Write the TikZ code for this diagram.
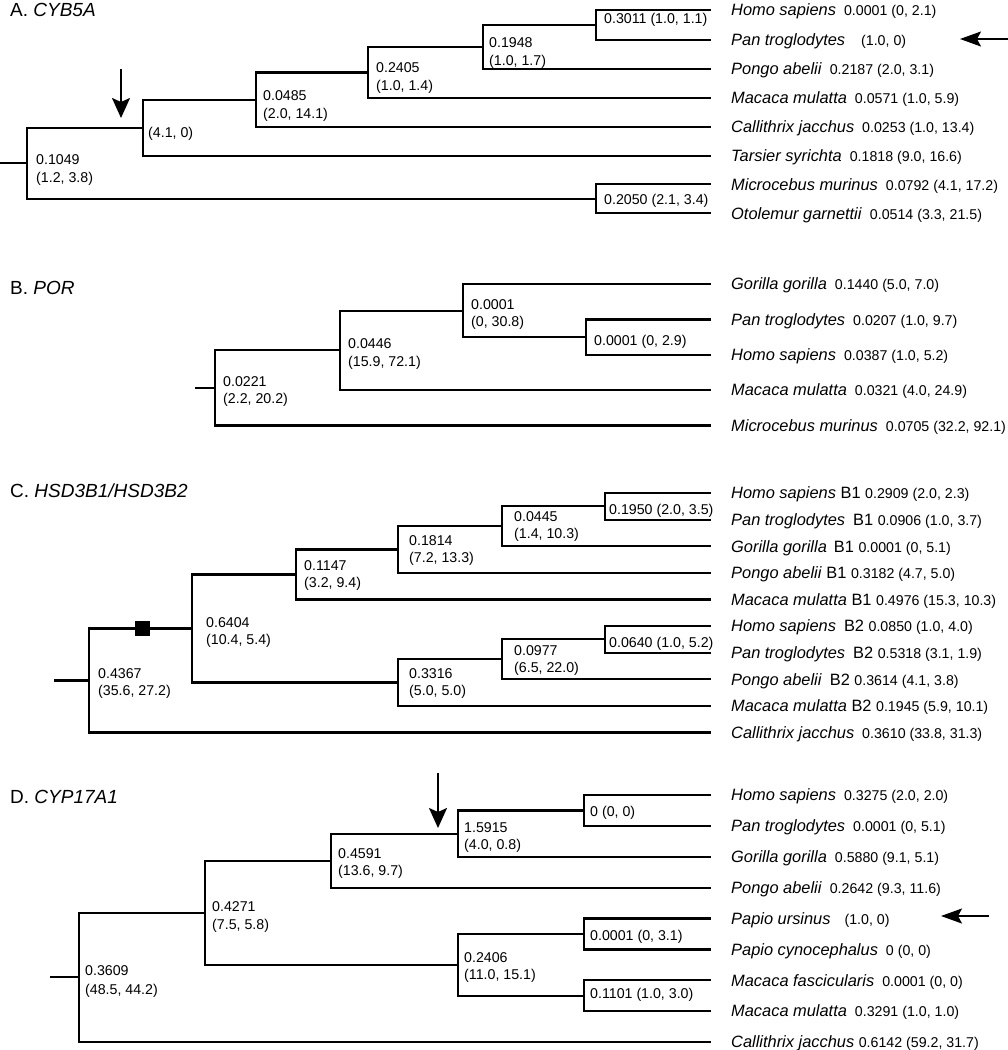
\documentclass[tikz,border=0pt]{standalone}
\usepackage{fontspec}
\setmainfont{Liberation Sans}
\usetikzlibrary{arrows.meta,calc}
\newcommand\numtxt[1]{{\fontsize{14.2}{17}\selectfont #1}}
\begin{document}
\begin{tikzpicture}[x=1pt,y=-1pt,
 br/.style={line width=2.2pt, line join=miter},
 num/.style={anchor=base west, inner sep=0pt, font=\fontsize{14.2}{17}\selectfont},
 tiplab/.style={anchor=base west, inner sep=0pt, font=\fontsize{16.4}{19}\selectfont},
 ttl/.style={anchor=base west, inner sep=0pt, font=\fontsize{19}{22}\selectfont},
 downarr/.style={line width=2pt, -{Stealth[length=20pt,width=18pt,inset=4pt]}},
 leftarr/.style={line width=2pt, -{Stealth[length=21pt,width=15pt,inset=4pt]}},
 sq/.style={fill=black, minimum size=15pt, inner sep=0pt}]
\useasboundingbox (0,0) rectangle (1008,1050);

%%%%%%%%%%%%%%%% Panel A %%%%%%%%%%%%%%%%
\node[ttl] (tA) at (10,16.5) {A. \textit{CYB5A}};
\coordinate (A1) at (711,10);
\coordinate (A2) at (711,40);
\coordinate (A3) at (711,69);
\coordinate (A4) at (711,98);
\coordinate (A5) at (711,127);
\coordinate (A6) at (711,156);
\coordinate (A7) at (711,184.3);
\coordinate (A8) at (711,213.3);
\coordinate (a1) at (596,25);
\coordinate (a2) at (483,47);
\coordinate (a3) at (368,72.5);
\coordinate (a4) at (256,99.75);
\coordinate (a5) at (143,127.9);
\coordinate (a6) at (596,198.8);
\coordinate (a0) at (27,163.3);
\coordinate (a0s) at (0,163.3);
\draw[br] (A1) -| (a1) |- (A2);
\draw[br] (a1) -| (a2) |- (A3);
\draw[br] (a2) -| (a3) |- (A4);
\draw[br] (a3) -| (a4) |- (A5);
\draw[br] (a4) -| (a5) |- (A6);
\draw[br] (A7) -| (a6) |- (A8);
\draw[br] (a5) -| (a0) |- (a6);
\draw[br] (a0s) -- (a0);

\node[num] (la1) at (604,23.8) {0.3011 (1.0, 1.1)};
\node[num] (la2) at (489,47.3) {0.1948};
\node[num] (la2b) at (489,65.3) {(1.0, 1.7)};
\node[num] (la3) at (376,72.2) {0.2405};
\node[num] (la3b) at (376,90.2) {(1.0, 1.4)};
\node[num] (la4) at (263,100.6) {0.0485};
\node[num] (la4b) at (263,118.3) {(2.0, 14.1)};
\node[num] (la5) at (148,137.1) {(4.1, 0)};
\node[num] (la0) at (36,164.1) {0.1049};
\node[num] (la0b) at (36,182.1) {(1.2, 3.8)};
\node[num] (la6) at (604,204.1) {0.2050 (2.1, 3.4)};

\node[tiplab] (A1l) at ($(A1)+(20,5.8)$) {\textit{Homo sapiens}\hspace{8pt}\numtxt{0.0001 (0, 2.1)}};
\node[tiplab] (A2l) at ($(A2)+(20,5.8)$) {\textit{Pan troglodytes}\hspace{16pt}\numtxt{(1.0, 0)}};
\node[tiplab] (A3l) at ($(A3)+(20,5.8)$) {\textit{Pongo abelii}\hspace{8pt}\numtxt{0.2187 (2.0, 3.1)}};
\node[tiplab] (A4l) at ($(A4)+(20,5.8)$) {\textit{Macaca mulatta}\hspace{8pt}\numtxt{0.0571 (1.0, 5.9)}};
\node[tiplab] (A5l) at ($(A5)+(20,5.8)$) {\textit{Callithrix jacchus}\hspace{8pt}\numtxt{0.0253 (1.0, 13.4)}};
\node[tiplab] (A6l) at ($(A6)+(20,5.8)$) {\textit{Tarsier syrichta}\hspace{8pt}\numtxt{0.1818 (9.0, 16.6)}};
\node[tiplab] (A7l) at ($(A7)+(20,5.8)$) {\textit{Microcebus murinus}\hspace{8pt}\numtxt{0.0792 (4.1, 17.2)}};
\node[tiplab] (A8l) at ($(A8)+(20,5.8)$) {\textit{Otolemur garnettii}\hspace{8pt}\numtxt{0.0514 (3.3, 21.5)}};

\coordinate (arAs) at (121,69);
\coordinate (arAe) at (121,118);
\draw[downarr] (arAs) -- (arAe);
\coordinate (arA2s) at (1008,39);
\coordinate (arA2e) at (960,39);
\draw[leftarr] (arA2s) -- (arA2e);

%%%%%%%%%%%%%%%% Panel B %%%%%%%%%%%%%%%%
\node[ttl] (tB) at (10,294) {B. \textit{POR}};
\coordinate (B1) at (711,284);
\coordinate (B2) at (711,319.5);
\coordinate (B3) at (711,355);
\coordinate (B4) at (711,390);
\coordinate (B5) at (711,425.5);
\coordinate (b1) at (586,337.25);
\coordinate (b2) at (463,310.6);
\coordinate (b3) at (340,350.3);
\coordinate (b0) at (215,387.9);
\coordinate (b0s) at (195,387.9);
\draw[br] (B2) -| (b1) |- (B3);
\draw[br] (B1) -| (b2) |- (b1);
\draw[br] (b2) -| (b3) |- (B4);
\draw[br] (b3) -| (b0) |- (B5);
\draw[br] (b0s) -- (b0);

\node[num] (lb1) at (594,345.6) {0.0001 (0, 2.9)};
\node[num] (lb2) at (471,309.1) {0.0001};
\node[num] (lb2b) at (471,326.6) {(0, 30.8)};
\node[num] (lb3) at (348,348.8) {0.0446};
\node[num] (lb3b) at (348,366.3) {(15.9, 72.1)};
\node[num] (lb0) at (223,386.1) {0.0221};
\node[num] (lb0b) at (223,403.6) {(2.2, 20.2)};

\node[tiplab] (B1l) at ($(B1)+(20,5.8)$) {\textit{Gorilla gorilla}\hspace{8pt}\numtxt{0.1440 (5.0, 7.0)}};
\node[tiplab] (B2l) at ($(B2)+(20,5.8)$) {\textit{Pan troglodytes}\hspace{8pt}\numtxt{0.0207 (1.0, 9.7)}};
\node[tiplab] (B3l) at ($(B3)+(20,5.8)$) {\textit{Homo sapiens}\hspace{8pt}\numtxt{0.0387 (1.0, 5.2)}};
\node[tiplab] (B4l) at ($(B4)+(20,5.8)$) {\textit{Macaca mulatta}\hspace{8pt}\numtxt{0.0321 (4.0, 24.9)}};
\node[tiplab] (B5l) at ($(B5)+(20,5.8)$) {\textit{Microcebus murinus}\hspace{8pt}\numtxt{0.0705 (32.2, 92.1)}};

%%%%%%%%%%%%%%%% Panel C %%%%%%%%%%%%%%%%
\node[ttl] (tC) at (10,497) {C. \textit{HSD3B1/HSD3B2}};
\coordinate (C1) at (711,493);
\coordinate (C2) at (711,519.6);
\coordinate (C3) at (711,546.2);
\coordinate (C4) at (711,572.8);
\coordinate (C5) at (711,599.4);
\coordinate (C6) at (711,626);
\coordinate (C7) at (711,652.6);
\coordinate (C8) at (711,679.2);
\coordinate (C9) at (711,705.8);
\coordinate (C10) at (711,732.4);
\coordinate (c1) at (605,506.3);
\coordinate (c2) at (502,526.25);
\coordinate (c3) at (398,549.5);
\coordinate (c4) at (296,574.5);
\coordinate (c5) at (605,639.3);
\coordinate (c6) at (502,659.25);
\coordinate (c7) at (398,682.5);
\coordinate (c8) at (192,628.5);
\coordinate (c0) at (89,680.5);
\coordinate (c0s) at (54,680.5);
\draw[br] (C1) -| (c1) |- (C2);
\draw[br] (c1) -| (c2) |- (C3);
\draw[br] (c2) -| (c3) |- (C4);
\draw[br] (c3) -| (c4) |- (C5);
\draw[br] (C6) -| (c5) |- (C7);
\draw[br] (c5) -| (c6) |- (C8);
\draw[br] (c6) -| (c7) |- (C9);
\draw[br] (c4) -| (c8) |- (c7);
\draw[br] (c8) -| (c0) |- (C10);
\draw[br] (c0s) -- (c0);
\node[sq] (sqC) at (142.5,628.5) {};

\node[num] (lc1) at (609,514.1) {0.1950 (2.0, 3.5)};
\node[num] (lc2) at (514,521.1) {0.0445};
\node[num] (lc2b) at (514,538.6) {(1.4, 10.3)};
\node[num] (lc3) at (409,545.1) {0.1814};
\node[num] (lc3b) at (409,562.6) {(7.2, 13.3)};
\node[num] (lc4) at (304,570.1) {0.1147};
\node[num] (lc4b) at (304,587.6) {(3.2, 9.4)};
\node[num] (lc8) at (206,627.1) {0.6404};
\node[num] (lc8b) at (206,644.6) {(10.4, 5.4)};
\node[num] (lc0) at (98,678.1) {0.4367};
\node[num] (lc0b) at (98,695.6) {(35.6, 27.2)};
\node[num] (lc5) at (609,647.1) {0.0640 (1.0, 5.2)};
\node[num] (lc6) at (514,655.1) {0.0977};
\node[num] (lc6b) at (514,672.6) {(6.5, 22.0)};
\node[num] (lc7) at (409,678.1) {0.3316};
\node[num] (lc7b) at (409,695.6) {(5.0, 5.0)};

\node[tiplab] (C1l) at ($(C1)+(20,5.8)$) {\textit{Homo sapiens} B1 \numtxt{0.2909 (2.0, 2.3)}};
\node[tiplab] (C2l) at ($(C2)+(20,5.8)$) {\textit{Pan troglodytes}\hspace{8pt}B1 \numtxt{0.0906 (1.0, 3.7)}};
\node[tiplab] (C3l) at ($(C3)+(20,5.8)$) {\textit{Gorilla gorilla}\hspace{7pt}B1 \numtxt{0.0001 (0, 5.1)}};
\node[tiplab] (C4l) at ($(C4)+(20,5.8)$) {\textit{Pongo abelii} B1 \numtxt{0.3182 (4.7, 5.0)}};
\node[tiplab] (C5l) at ($(C5)+(20,5.8)$) {\textit{Macaca mulatta} B1 \numtxt{0.4976 (15.3, 10.3)}};
\node[tiplab] (C6l) at ($(C6)+(20,5.8)$) {\textit{Homo sapiens}\hspace{8pt}B2 \numtxt{0.0850 (1.0, 4.0)}};
\node[tiplab] (C7l) at ($(C7)+(20,5.8)$) {\textit{Pan troglodytes}\hspace{8pt}B2 \numtxt{0.5318 (3.1, 1.9)}};
\node[tiplab] (C8l) at ($(C8)+(20,5.8)$) {\textit{Pongo abelii}\hspace{8pt}B2 \numtxt{0.3614 (4.1, 3.8)}};
\node[tiplab] (C9l) at ($(C9)+(20,5.8)$) {\textit{Macaca mulatta} B2 \numtxt{0.1945 (5.9, 10.1)}};
\node[tiplab] (C10l) at ($(C10)+(20,5.8)$) {\textit{Callithrix jacchus}\hspace{8pt}\numtxt{0.3610 (33.8, 31.3)}};

%%%%%%%%%%%%%%%% Panel D %%%%%%%%%%%%%%%%
\node[ttl] (tD) at (10,803.5) {D. \textit{CYP17A1}};
\coordinate (D1) at (711,795);
\coordinate (D2) at (711,825.9);
\coordinate (D3) at (711,856.75);
\coordinate (D4) at (711,887.6);
\coordinate (D5) at (711,918.5);
\coordinate (D6) at (711,949.4);
\coordinate (D7) at (711,980.25);
\coordinate (D8) at (711,1011.1);
\coordinate (D9) at (711,1042);
\coordinate (d1) at (584,810.45);
\coordinate (d2) at (458,833.6);
\coordinate (d3) at (331,860.6);
\coordinate (d4) at (584,933.95);
\coordinate (d5) at (584,995.7);
\coordinate (d6) at (458,964.8);
\coordinate (d7) at (205,912.7);
\coordinate (d0) at (79,977.35);
\coordinate (d0s) at (50,977.35);
\draw[br] (D1) -| (d1) |- (D2);
\draw[br] (d1) -| (d2) |- (D3);
\draw[br] (d2) -| (d3) |- (D4);
\draw[br] (D5) -| (d4) |- (D6);
\draw[br] (D7) -| (d5) |- (D8);
\draw[br] (d4) -| (d6) |- (d5);
\draw[br] (d3) -| (d7) |- (d6);
\draw[br] (d7) -| (d0) |- (D9);
\draw[br] (d0s) -- (d0);

\node[num] (ld1) at (590,816.1) {0 (0, 0)};
\node[num] (ld2) at (464,832.1) {1.5915};
\node[num] (ld2b) at (464,849.1) {(4.0, 0.8)};
\node[num] (ld3) at (338,858.1) {0.4591};
\node[num] (ld3b) at (338,875.6) {(13.6, 9.7)};
\node[num] (ld7) at (212,911.1) {0.4271};
\node[num] (ld7b) at (212,929.1) {(7.5, 5.8)};
\node[num] (ld6) at (464,962.1) {0.2406};
\node[num] (ld6b) at (464,979.1) {(11.0, 15.1)};
\node[num] (ld4) at (590,940.1) {0.0001 (0, 3.1)};
\node[num] (ld5) at (590,998.1) {0.1101 (1.0, 3.0)};
\node[num] (ld0) at (85,975.1) {0.3609};
\node[num] (ld0b) at (85,994.1) {(48.5, 44.2)};

\node[tiplab] (D1l) at ($(D1)+(20,5.8)$) {\textit{Homo sapiens}\hspace{8pt}\numtxt{0.3275 (2.0, 2.0)}};
\node[tiplab] (D2l) at ($(D2)+(20,5.8)$) {\textit{Pan troglodytes}\hspace{8pt}\numtxt{0.0001 (0, 5.1)}};
\node[tiplab] (D3l) at ($(D3)+(20,5.8)$) {\textit{Gorilla gorilla}\hspace{8pt}\numtxt{0.5880 (9.1, 5.1)}};
\node[tiplab] (D4l) at ($(D4)+(20,5.8)$) {\textit{Pongo abelii}\hspace{8pt}\numtxt{0.2642 (9.3, 11.6)}};
\node[tiplab] (D5l) at ($(D5)+(20,5.8)$) {\textit{Papio ursinus}\hspace{14pt}\numtxt{(1.0, 0)}};
\node[tiplab] (D6l) at ($(D6)+(20,5.8)$) {\textit{Papio cynocephalus}\hspace{8pt}\numtxt{0 (0, 0)}};
\node[tiplab] (D7l) at ($(D7)+(20,5.8)$) {\textit{Macaca fascicularis}\hspace{8pt}\numtxt{0.0001 (0, 0)}};
\node[tiplab] (D8l) at ($(D8)+(20,5.8)$) {\textit{Macaca mulatta}\hspace{8pt}\numtxt{0.3291 (1.0, 1.0)}};
\node[tiplab] (D9l) at ($(D9)+(20,5.8)$) {\textit{Callithrix jacchus} \numtxt{0.6142 (59.2, 31.7)}};

\coordinate (arDs) at (438,773);
\coordinate (arDe) at (438,828);
\draw[downarr] (arDs) -- (arDe);
\coordinate (arD2s) at (989,916);
\coordinate (arD2e) at (941,916);
\draw[leftarr] (arD2s) -- (arD2e);
\end{tikzpicture}
\end{document}
